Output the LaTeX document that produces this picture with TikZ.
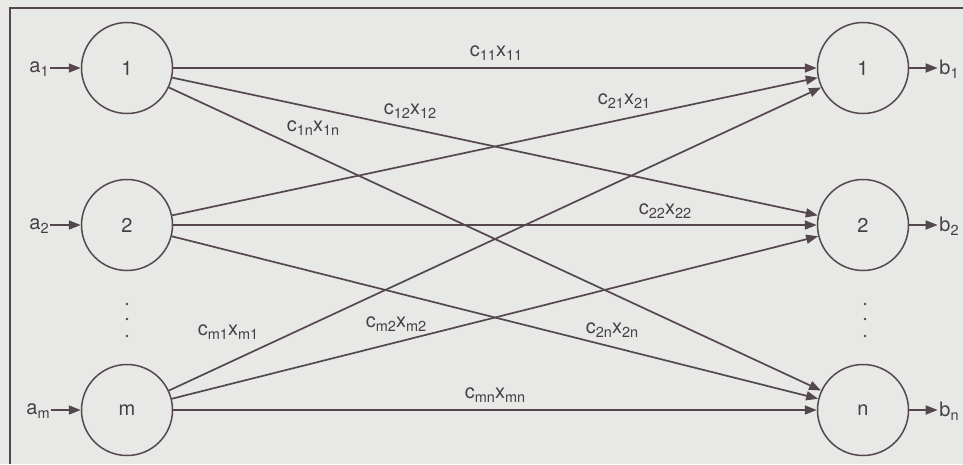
\documentclass[tikz,border=0pt]{standalone}
\usepackage{fontspec}
\setmainfont{TeX Gyre Heros}
\usetikzlibrary{arrows.meta}
\definecolor{paper}{RGB}{232,232,230}
\definecolor{ink}{RGB}{84,72,76}
\definecolor{txt}{RGB}{70,64,67}
\newcommand\sbs[1]{\raisebox{-0.22em}{\fontsize{14.5}{15}\selectfont #1}}
\begin{document}
\begin{tikzpicture}[x=1pt,y=-1pt,
  every node/.style={text=txt, font=\fontsize{20}{22}\selectfont},
  station/.style={circle, draw=ink, line width=1.5pt, minimum size=91pt, inner sep=0pt},
  edge/.style={draw=ink, line width=1.7pt, -{Triangle[length=12pt,width=9pt]}},
  lab/.style={inner sep=1pt},
  ends/.style={inner sep=1.5pt}]
\useasboundingbox (0,0) rectangle (963,464);
\fill[paper] (0,0) rectangle (963,464);
\draw[ink, line width=1.6pt] (963,8) -- (10,8) -- (10,464);

% source and destination nodes
\node[station] (L1) at (127,68) {1};
\node[station] (L2) at (127,225) {2};
\node[station] (Lm) at (127,410) {m};
\node[station] (R1) at (863,68) {1};
\node[station] (R2) at (863,225) {2};
\node[station] (Rn) at (863,410) {n};

% supplies and demands
\node[ends] (a1) at (39,69) {a\sbs{1}};
\node[ends] (a2) at (39,226) {a\sbs{2}};
\node[ends] (am) at (38,411) {a\sbs{m}};
\node[ends] (b1) at (949,69) {b\sbs{1}};
\node[ends] (b2) at (949,226) {b\sbs{2}};
\node[ends] (bn) at (949,411) {b\sbs{n}};
\draw[edge] (a1.east |- L1) -- (L1);
\draw[edge] (a2.east |- L2) -- (L2);
\draw[edge] (am.east |- Lm) -- (Lm);
\draw[edge] (R1) -- (b1.west |- R1);
\draw[edge] (R2) -- (b2.west |- R2);
\draw[edge] (Rn) -- (bn.west |- Rn);

% transport links
\draw[edge] (L1) -- (R1);
\draw[edge] (L1) -- (R2);
\draw[edge] (L1) -- (Rn);
\draw[edge] (L2) -- (R1);
\draw[edge] (L2) -- (R2);
\draw[edge] (L2) -- (Rn);
\draw[edge] (Lm) -- (R1);
\draw[edge] (Lm) -- (R2);
\draw[edge] (Lm) -- (Rn);

% link labels
\node[lab] (t11) at (496,53) {c\sbs{11}x\sbs{11}};
\node[lab] (t12) at (410,111) {c\sbs{12}x\sbs{12}};
\node[lab] (t1n) at (313,128) {c\sbs{1n}x\sbs{1n}};
\node[lab] (t21) at (624,101) {c\sbs{21}x\sbs{21}};
\node[lab] (t22) at (665,211) {c\sbs{22}x\sbs{22}};
\node[lab] (t2n) at (612,330) {c\sbs{2n}x\sbs{2n}};
\node[lab] (tm1) at (228,332) {c\sbs{m1}x\sbs{m1}};
\node[lab] (tm2) at (396,324) {c\sbs{m2}x\sbs{m2}};
\node[lab] (tmn) at (495,395) {c\sbs{mn}x\sbs{mn}};

% vertical dots
\foreach \yy in {304,319,336} {
  \fill[txt] (127,\yy) circle (1.4pt);
  \fill[txt] (865,\yy) circle (1.4pt);
}
\end{tikzpicture}
\end{document}
